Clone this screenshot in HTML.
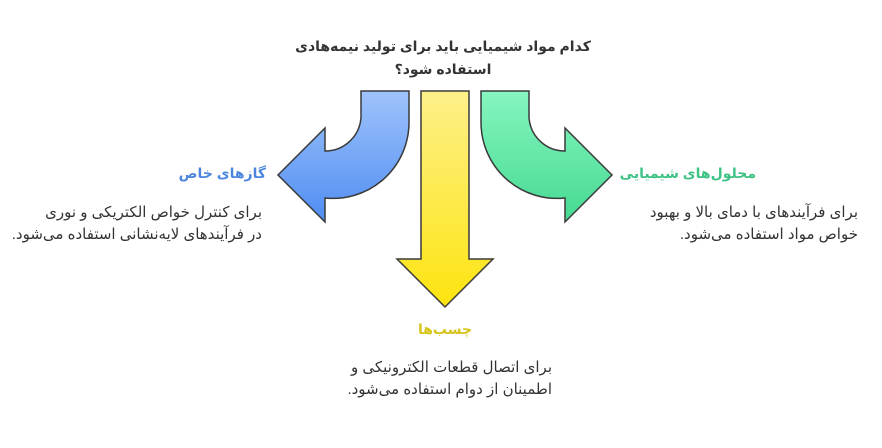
<!DOCTYPE html>
<html><head><meta charset="utf-8"><style>
body{margin:0;width:882px;height:448px;background:#fff;position:relative;overflow:hidden;font-family:"Liberation Sans","DejaVu Sans",sans-serif}
.t{position:absolute;direction:rtl;white-space:nowrap}
.b{font-weight:bold}
.p{font-size:15px;letter-spacing:0.4px;color:#333;line-height:22px}
</style></head><body>
<svg width="882" height="448" style="position:absolute;left:0;top:0">
<defs>
<linearGradient id="gb" x1="0" y1="0" x2="0" y2="1"><stop offset="0" stop-color="#9fc3fb"/><stop offset="1" stop-color="#4f8df2"/></linearGradient>
<linearGradient id="gy" x1="0" y1="0" x2="0" y2="1"><stop offset="0" stop-color="#fdf08a"/><stop offset="1" stop-color="#fde40f"/></linearGradient>
<linearGradient id="gg" x1="0" y1="0" x2="0" y2="1"><stop offset="0" stop-color="#86f6c0"/><stop offset="1" stop-color="#45d991"/></linearGradient>
</defs>
<g stroke="#3a3a3a" stroke-width="1.5" stroke-linejoin="miter">
<path d="M361 91 L409 91 L409 122 A76 76 0 0 1 325 198 L325 222 L278 175 L325 128 L325 151 A36 36 0 0 0 361 118 Z" fill="url(#gb)"/>
<path d="M421 91 L469 91 L469 259 L493 259 L445 307 L397 259 L421 259 Z" fill="url(#gy)"/>
<path d="M529 91 L481 91 L481 122 A76 76 0 0 0 565 198 L565 222 L612 175 L565 128 L565 151 A36 36 0 0 1 529 118 Z" fill="url(#gg)"/>
</g>
</svg>
<div class="t b" style="left:290px;width:306px;top:35px;font-size:14px;color:#333;text-align:center;line-height:23px">کدام مواد شیمیایی باید برای تولید نیمه‌هادی<br>استفاده شود؟</div>
<div class="t b" style="left:150px;width:116px;top:165px;font-size:14px;color:#4d86de;text-align:right">گازهای خاص</div>
<div class="t p" style="left:0px;width:262px;top:202px;text-align:right">برای کنترل خواص الکتریکی و نوری<br>در فرآیندهای لایه‌نشانی استفاده می‌شود.</div>
<div class="t b" style="left:620px;width:136px;top:165px;font-size:14px;color:#3fc285;text-align:right">محلول‌های شیمیایی</div>
<div class="t p" style="left:600px;width:258px;top:202px;text-align:right">برای فرآیندهای با دمای بالا و بهبود<br>خواص مواد استفاده می‌شود.</div>
<div class="t b" style="left:380px;width:130px;top:321px;font-size:14px;color:#d6c41a;text-align:center">چسب‌ها</div>
<div class="t p" style="left:310px;width:242px;top:357px;text-align:right">برای اتصال قطعات الکترونیکی و<br>اطمینان از دوام استفاده می‌شود.</div>
</body></html>
